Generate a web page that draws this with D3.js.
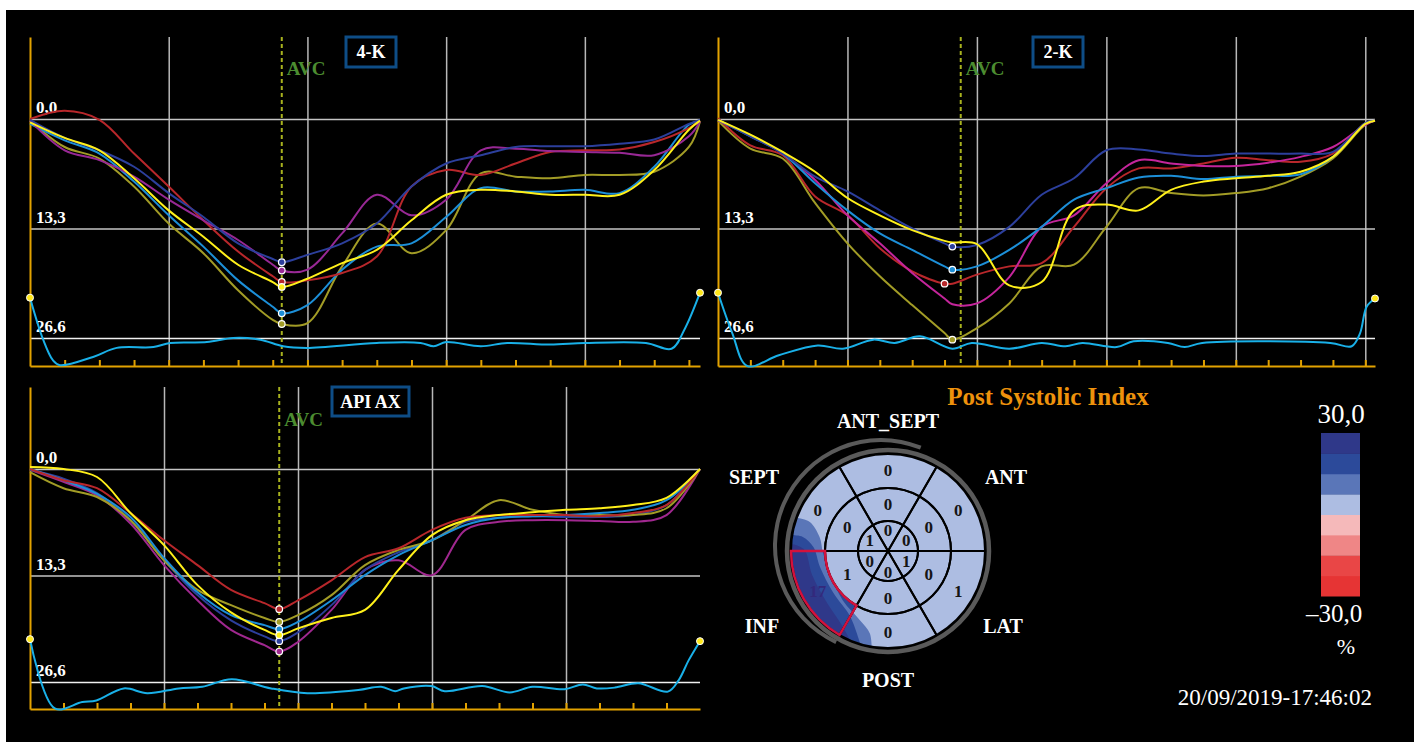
<!DOCTYPE html>
<html>
<head>
<meta charset="utf-8">
<script src="https://cdn.jsdelivr.net/npm/d3@7"></script>
<style>
body { margin: 0; background: #fff; }
svg { display: block; font-family: "Liberation Serif", "DejaVu Serif", serif; }
</style>
</head>
<body>
<script>
// ---------- data : strain curves (%, drawn downward) ----------
const strainTicks = [0, 13.3, 26.6]

// 4-K view
const t4K = [0,50,100,150,200,250,300,350,363,400,450,500,550,600,650,700,750,800,850,900,950,966]
const k4Navy   = [0.1,2.3,3.8,5.8,9.0,11.9,15.1,17.0,17.4,16.5,15.1,12.7,8.2,5.4,4.4,3.4,3.3,3.3,3.0,2.5,0.6,0.1]
const k4Purple = [0.2,3.8,5.0,7.0,9.8,12.3,14.7,17.7,18.4,18.3,13.9,9.2,11.7,9.8,3.8,3.6,3.9,4.0,4.1,4.4,2.1,0.3]
const k4Red    = [0,-1.0,0.1,4.2,8.2,12.3,16.1,19.1,19.8,19.6,18.7,16.7,8.2,6.2,6.8,5.4,4.0,3.8,3.7,2.8,1.1,0.2]
const k4Yellow = [0.4,2.3,3.8,7.2,11.1,14.3,17.7,19.8,20.4,19.4,17.5,15.9,12.3,9.2,8.6,8.8,9.2,9.2,9.2,6.2,1.3,0.2]
const k4Blue   = [0.6,2.6,4.2,7.6,11.7,15.5,19.6,22.8,23.6,22.6,18.3,15.5,15.1,11.9,8.4,8.8,8.8,8.6,9.0,5.8,0.7,0.2]
const k4Olive  = [0.2,3.4,4.8,8.2,12.7,16.3,20.8,24.4,24.9,24.8,17.9,12.7,16.3,13.5,6.6,7.0,7.2,6.8,6.8,6.4,3.4,0.3]
const t4KBase  = [0,19,33,43,91,125,178,202,255,293,332,365,399,500,563,582,600,650,688,750,800,888,925,944,966]
const k4Base   = [21.7,26.8,29.3,29.9,28.9,27.8,27.7,27.2,27.1,26.6,26.8,27.6,27.8,27.2,27.2,27.6,27.1,27.6,27.2,27.4,27.2,27.2,27.9,25.5,21.1]

// 2-K view
const t2K = [0,50,100,150,200,250,300,350,362,400,450,500,550,600,650,700,750,800,850,900,950,1000,1015]
const k2Navy    = [0.1,2.1,4.2,7.0,8.8,11.1,13.3,15.1,15.5,15.3,13.1,9.2,7.2,3.8,3.7,4.2,4.5,4.2,4.2,4.2,4.0,0.5,0.2]
const k2Magenta = [0.2,2.0,4.2,7.4,11.7,15.1,18.7,21.8,22.5,22.4,19.2,13.1,11.7,7.8,5.0,5.4,5.7,5.7,5.3,4.6,3.4,0.7,0.2]
const k2Red     = [-0.1,3.2,4.4,9.4,11.7,15.7,18.5,20.0,20.0,18.9,17.9,17.5,13.1,8.4,6.0,6.0,5.4,4.7,5.0,5.2,4.2,0.5,0.2]
const k2Yellow  = [0.1,1.9,4.0,6.4,9.6,11.7,13.5,14.8,15.0,15.2,20.2,19.8,11.1,10.4,11.1,8.6,7.6,7.2,6.9,6.4,4.6,0.6,0.2]
const k2Blue    = [0.1,2.1,4.2,7.8,11.1,13.9,15.9,17.9,18.3,17.9,15.9,13.1,9.8,8.4,7.1,6.9,7.3,7.0,6.9,6.7,4.6,0.5,0.2]
const k2Olive   = [0.2,3.6,4.8,10.2,15.1,19.1,22.6,26.0,26.8,25.4,22.4,17.9,17.7,13.1,8.4,9.0,9.3,9.0,8.4,7.0,4.8,0.7,0.2]
const t2KBase   = [0,22,45,94,154,193,240,273,312,362,392,450,500,537,563,616,642,695,721,748,946,979,992,1002,1015]
const k2Base    = [21.1,26.0,30.0,28.7,27.5,27.9,26.8,27.2,26.4,27.9,27.2,27.9,27.2,27.6,27.2,27.7,27.0,27.2,27.7,27.2,27.2,27.6,26.0,22.8,21.8]

// API AX view
const tAx = [0,50,100,150,200,250,300,350,372,400,450,500,550,600,650,700,750,800,850,900,950,1000]
const axYellow = [-0.25,0.0,1.0,5.5,9.5,14.5,17.9,20.1,20.75,19.9,18.6,17.6,12.6,8.25,6.4,5.75,5.4,5.1,4.9,4.5,3.6,0]
const axRed    = [0,1.4,2.4,5.5,8.9,12.0,15.1,16.75,17.5,16.4,13.9,11.0,9.9,7.6,6.1,5.75,5.75,5.75,5.9,5.5,4.5,0]
const axOlive  = [0.4,2.4,3.5,6.4,11.4,15.1,17.0,18.6,19.1,18.25,15.75,12.0,10.1,8.9,6.4,3.9,5.1,5.75,5.75,5.75,4.9,0]
const axBlue   = [0,1.4,3.1,6.0,11.1,15.4,18.25,19.5,20.0,19.1,16.4,13.25,10.75,8.9,7.0,6.1,5.9,5.75,5.5,5.1,3.9,0]
const axNavy   = [0.1,1.2,3.0,6.4,11.4,15.75,18.9,20.9,21.5,20.4,17.0,12.6,10.4,8.9,6.6,6.1,5.9,6.0,6.0,5.75,4.5,0]
const axPurple = [0.1,1.6,3.3,6.8,12.0,16.4,20.1,22.0,22.8,21.6,17.6,12.6,11.4,13.25,7.6,6.6,6.4,6.4,6.5,6.6,5.75,0]
const tAxBase  = [0,37,78,99,140,175,222,257,301,360,414,490,524,545,558,599,619,675,716,750,798,825,846,873,908,952,968,983,1000]
const axBase   = [21.25,29.9,29.1,28.9,27.4,28.0,27.4,27.2,26.25,27.4,28.0,27.6,27.2,27.75,27.4,27.1,27.75,27.1,27.9,27.2,27.5,26.9,27.4,27.3,26.75,27.8,26.4,23.9,21.5]

// ---------- data : post systolic index bull's eye ----------
const segNames   = ["ANT_SEPT", "ANT", "LAT", "POST", "INF", "SEPT"]
const basalPSI   = [0, 0, 1, 0, 17, 0]
const midPSI     = [0, 0, 0, 0, 1, 0]
const apicalPSI  = [0, 0, 1, 0, 0, 1]
const psiDomain  = [-30, 30]
const psiColors  = ["#e63434", "#e94646", "#ef8686", "#f5b9ba", "#adbde2", "#5a76b8", "#2c4a9a", "#2f3889"]
// smoothed PSI field around inferior base: [angle deg (math), radius / R]
const psiContours = [
	{ level: 10, pts: [[159.9,0.99],[159.6,0.86],[168.4,0.72],[181.8,0.67],[200.8,0.64],[227.4,0.69],[247.9,0.77],[257.6,0.87],[260.8,1.05]] },
	{ level: 17, pts: [[170.7,1.02],[170.6,0.89],[177,0.77],[193.2,0.72],[217.4,0.71],[240,0.78],[253,0.99]] },
	{ level: 25, pts: [[176,0.97],[179.3,0.86],[197.5,0.82],[218,0.82],[238,0.9],[247,1.0]] }
]
const stamp = "20/09/2019-17:46:02"

// ---------- page ----------
const W = 1420, H = 755
const gold = "#e2a200"
const comma = d3.formatLocale({decimal: ",", thousands: ".", grouping: [3], currency: ["", ""], minus: "\u2013"}).format(".1f")

const svg = d3.select("body").append("svg")
	.attr("width", W)
	.attr("height", H)

svg.append("rect").attr("width", W).attr("height", H).attr("fill", "#fff")
svg.append("rect").attr("x", 6).attr("y", 10).attr("width", 1408).attr("height", 732).attr("fill", "#000")

// series: [values, colour, time of AVC dot (or null)]
const panels = [
	{ name: "4-K", x0: 30, x1: 700, yTop: 37, yBot: 366, yZero: 119, yRef: 338, dur: 966, avc: 363,
	  box: [346, 37, 50, 30], avcY: 75, times: t4K, baseT: t4KBase, baseV: k4Base,
	  series: [[k4Olive, "#a29c26", 363], [k4Blue, "#1c8fd8", 363], [k4Red, "#b8272b", 363], [k4Purple, "#982895", 363], [k4Navy, "#2c3f9c", 363], [k4Yellow, "#fff01a", 363]] },
	{ name: "2-K", x0: 718, x1: 1375, yTop: 37, yBot: 366, yZero: 119, yRef: 338, dur: 1015, avc: 375,
	  box: [1033, 37, 50, 30], avcY: 75, times: t2K, baseT: t2KBase, baseV: k2Base,
	  series: [[k2Olive, "#a29c26", 362], [k2Red, "#b8272b", 350], [k2Magenta, "#c4259b", null], [k2Blue, "#1c8fd8", 362], [k2Navy, "#2c3f9c", 362], [k2Yellow, "#fff01a", null]] },
	{ name: "API AX", x0: 30, x1: 700, yTop: 387, yBot: 709, yZero: 469, yRef: 682, dur: 1000, avc: 372,
	  box: [332, 387, 77, 29], avcY: 426, times: tAx, baseT: tAxBase, baseV: axBase,
	  series: [[axPurple, "#a0288f", 372], [axNavy, "#2c3f9c", 372], [axOlive, "#a29c26", 372], [axBlue, "#1c8fd8", 372], [axRed, "#b8272b", 372], [axYellow, "#fff01a", 372]] }
]

let drawPanel = function(p) {
	const g = svg.append("g")
	const x = d3.scaleLinear().domain([0, p.dur]).range([p.x0, p.x1])
	const y = d3.scaleLinear().domain([0, 26.6]).range([p.yZero, p.yRef])
	const yAll = d3.scaleLinear().domain([y.invert(p.yTop), y.invert(p.yBot)]).range([p.yTop, p.yBot])

	// vertical grid
	g.append("g")
		.attr("transform", "translate(0," + p.yBot + ")")
		.call(d3.axisBottom(x).tickValues(d3.range(200, p.dur, 200)).tickSize(-(p.yBot - p.yTop)).tickFormat(""))
		.call(a => a.select(".domain").remove())
		.selectAll("line").attr("stroke", "#b8b8b8").attr("stroke-width", 1.5)

	// horizontal grid
	g.append("g")
		.attr("transform", "translate(" + p.x0 + ",0)")
		.call(d3.axisLeft(y).tickValues(strainTicks).tickSize(-(p.x1 - p.x0)).tickFormat(""))
		.call(a => a.select(".domain").remove())
		.selectAll("line").attr("stroke", (d, i) => i == 2 ? "#f0f0f0" : "#c4c4c4").attr("stroke-width", 1.5)

	g.selectAll("text.lab")
		.data(strainTicks)
		.join("text")
		.attr("x", p.x0 + 6)
		.attr("y", d => y(d) - 6)
		.attr("fill", "#fff")
		.attr("font-size", 17)
		.attr("font-weight", "bold")
		.text(d => comma(d))

	// golden axes
	g.append("g")
		.attr("transform", "translate(0," + p.yBot + ")")
		.call(d3.axisTop(x).tickValues(d3.range(50, p.dur, 50)).tickSize(6).tickSizeOuter(0).tickFormat(""))
		.call(a => a.selectAll("path, line").attr("stroke", gold).attr("stroke-width", 2))
	g.append("g")
		.attr("transform", "translate(" + p.x0 + ",0)")
		.call(d3.axisLeft(yAll).tickValues([]).tickSizeOuter(0))
		.call(a => a.select(".domain").attr("stroke", gold).attr("stroke-width", 2))

	// AVC marker
	g.append("line")
		.attr("x1", x(p.avc)).attr("x2", x(p.avc))
		.attr("y1", p.yTop).attr("y2", p.yBot)
		.attr("stroke", "#a8b21e")
		.attr("stroke-width", 2)
		.attr("stroke-dasharray", "4,3")
	g.append("text")
		.attr("x", x(p.avc) + 5)
		.attr("y", p.avcY)
		.attr("fill", "#4c8c30")
		.attr("font-size", 19)
		.attr("font-weight", "bold")
		.text("AVC")

	// view label
	g.append("rect")
		.attr("x", p.box[0]).attr("y", p.box[1])
		.attr("width", p.box[2]).attr("height", p.box[3])
		.attr("fill", "#000")
		.attr("stroke", "#0e4d86")
		.attr("stroke-width", 3)
	g.append("text")
		.attr("x", p.box[0] + p.box[2] / 2)
		.attr("y", p.box[1] + p.box[3] / 2 + 6)
		.attr("text-anchor", "middle")
		.attr("fill", "#fff")
		.attr("font-size", 18)
		.attr("font-weight", "bold")
		.text(p.name)

	// segment curves
	const line = d3.line()
		.x((d, i) => x(p.times[i]))
		.y(d => y(d))
		.curve(d3.curveCatmullRom.alpha(0.5))

	g.selectAll("path.seg")
		.data(p.series)
		.join("path")
		.attr("d", d => line(d[0]))
		.attr("fill", "none")
		.attr("stroke", d => d[1])
		.attr("stroke-width", 2)

	g.selectAll("circle.avc")
		.data(p.series.filter(d => d[2] != null))
		.join("circle")
		.attr("cx", d => x(d[2]))
		.attr("cy", d => y(d[0][p.times.indexOf(d[2])]))
		.attr("r", 3.3)
		.attr("fill", d => d[1])
		.attr("stroke", "#fff")
		.attr("stroke-width", 1.2)

	// bottom trace
	const baseLine = d3.line()
		.x((d, i) => x(p.baseT[i]))
		.y(d => y(d))
		.curve(d3.curveCatmullRom.alpha(0.5))
	g.append("path")
		.attr("d", baseLine(p.baseV))
		.attr("fill", "none")
		.attr("stroke", "#19b0e8")
		.attr("stroke-width", 2)
	g.selectAll("circle.end")
		.data([0, p.baseV.length - 1])
		.join("circle")
		.attr("cx", i => x(p.baseT[i]))
		.attr("cy", i => y(p.baseV[i]))
		.attr("r", 3.5)
		.attr("fill", "#ffe81a")
		.attr("stroke", "#fff")
		.attr("stroke-width", 1)
}

panels.forEach(drawPanel)

// ---------- bull's eye ----------
const cx = 888, cy = 551, R = 97
const psiColor = d3.scaleQuantize().domain(psiDomain).range(psiColors)
const rad = Math.PI / 180
const rings = [
	{ r0: 0, r1: 30, rt: 21, v: apicalPSI },
	{ r0: 30, r1: 63, rt: 47, v: midPSI },
	{ r0: 63, r1: R, rt: 81, v: basalPSI }
]
let segments = []
rings.forEach(r => r.v.forEach((v, k) => segments.push({
	innerRadius: r.r0, outerRadius: r.r1, rt: r.rt, v: v, k: k,
	startAngle: (60 * k - 30) * rad, endAngle: (60 * k + 30) * rad
})))

const arc = d3.arc()
const be = svg.append("g").attr("transform", "translate(" + cx + "," + cy + ")")

be.append("text")
	.attr("x", 160)
	.attr("y", -146)
	.attr("text-anchor", "middle")
	.attr("fill", "#ee920c")
	.attr("font-size", 25)
	.attr("font-weight", "bold")
	.text("Post Systolic Index")

// gray rim
be.append("circle").attr("r", R + 4).attr("fill", "none").attr("stroke", "#5a5a5a").attr("stroke-width", 4.5)
be.append("path")
	.attr("transform", "translate(-7,-5)")
	.attr("d", d3.arc()({ innerRadius: 104, outerRadius: 108, startAngle: -155 * rad, endAngle: 22 * rad }))
	.attr("fill", "#5a5a5a")

be.selectAll("path.fill")
	.data(segments)
	.join("path")
	.attr("d", arc)
	.attr("fill", d => psiColor(d.v))

svg.append("clipPath").attr("id", "beClip")
	.append("circle").attr("r", R)

const radial = d3.lineRadial()
	.angle(d => (90 - d[0]) * rad)
	.radius(d => d[1] * R)
	.curve(d3.curveCatmullRom.alpha(0.5))

be.append("g")
	.attr("clip-path", "url(#beClip)")
	.selectAll("path")
	.data(psiContours)
	.join("path")
	.attr("d", c => {
		const a0 = c.pts[0][0], a1 = c.pts[c.pts.length - 1][0]
		const back = d3.range(a1, a0, -10).map(a => [a, 1.2]).concat([[a0, 1.2]])
		return radial(c.pts) + d3.lineRadial().angle(d => (90 - d[0]) * rad).radius(d => d[1] * R)(back).replace("M", "L") + "Z"
	})
	.attr("fill", c => psiColor(c.level))

be.selectAll("path.edge")
	.data(segments)
	.join("path")
	.attr("d", arc)
	.attr("fill", "none")
	.attr("stroke", "#000")
	.attr("stroke-width", 2)

// highlighted segment
be.append("path")
	.attr("d", arc(segments.find(s => s.outerRadius == R && s.v == d3.max(basalPSI))))
	.attr("fill", "none")
	.attr("stroke", "#d4113c")
	.attr("stroke-width", 2.5)

be.selectAll("text.val")
	.data(segments)
	.join("text")
	.attr("x", d => d.rt * Math.sin(d.k * 60 * rad))
	.attr("y", d => -d.rt * Math.cos(d.k * 60 * rad))
	.attr("dy", "0.35em")
	.attr("text-anchor", "middle")
	.attr("fill", d => d.v > 7.5 ? "#33297c" : "#151515")
	.attr("font-size", 17)
	.attr("font-weight", "bold")
	.text(d => d.v)

const segLabelPos = [[0, -130], [118, -74], [115, 75], [0, 129], [-126, 75], [-134, -74]]
be.selectAll("text.name")
	.data(segNames)
	.join("text")
	.attr("x", (d, i) => segLabelPos[i][0])
	.attr("y", (d, i) => segLabelPos[i][1])
	.attr("dy", "0.35em")
	.attr("text-anchor", "middle")
	.attr("fill", "#fff")
	.attr("font-size", 20)
	.attr("font-weight", "bold")
	.text(d => d)

// ---------- colour bar ----------
const yBar = d3.scaleLinear().domain(psiDomain).range([596, 433])
const bandStep = (psiDomain[1] - psiDomain[0]) / psiColors.length
svg.selectAll("rect.band")
	.data(psiColors)
	.join("rect")
	.attr("x", 1321)
	.attr("width", 39)
	.attr("y", (d, i) => yBar(psiDomain[0] + (i + 1) * bandStep))
	.attr("height", yBar(0) - yBar(bandStep) + 0.5)
	.attr("fill", d => d)

svg.append("text")
	.attr("x", 1341).attr("y", 423)
	.attr("text-anchor", "middle")
	.attr("fill", "#fff")
	.attr("font-size", 27)
	.text(comma(psiDomain[1]))
svg.append("text")
	.attr("x", 1334).attr("y", 622)
	.attr("text-anchor", "middle")
	.attr("fill", "#fff")
	.attr("font-size", 25)
	.text(comma(psiDomain[0]))
svg.append("text")
	.attr("x", 1346).attr("y", 654)
	.attr("text-anchor", "middle")
	.attr("fill", "#fff")
	.attr("font-size", 22)
	.text("%")

svg.append("text")
	.attr("x", 1372).attr("y", 705)
	.attr("text-anchor", "end")
	.attr("fill", "#fff")
	.attr("font-size", 23)
	.text(stamp)
</script>
</body>
</html>
